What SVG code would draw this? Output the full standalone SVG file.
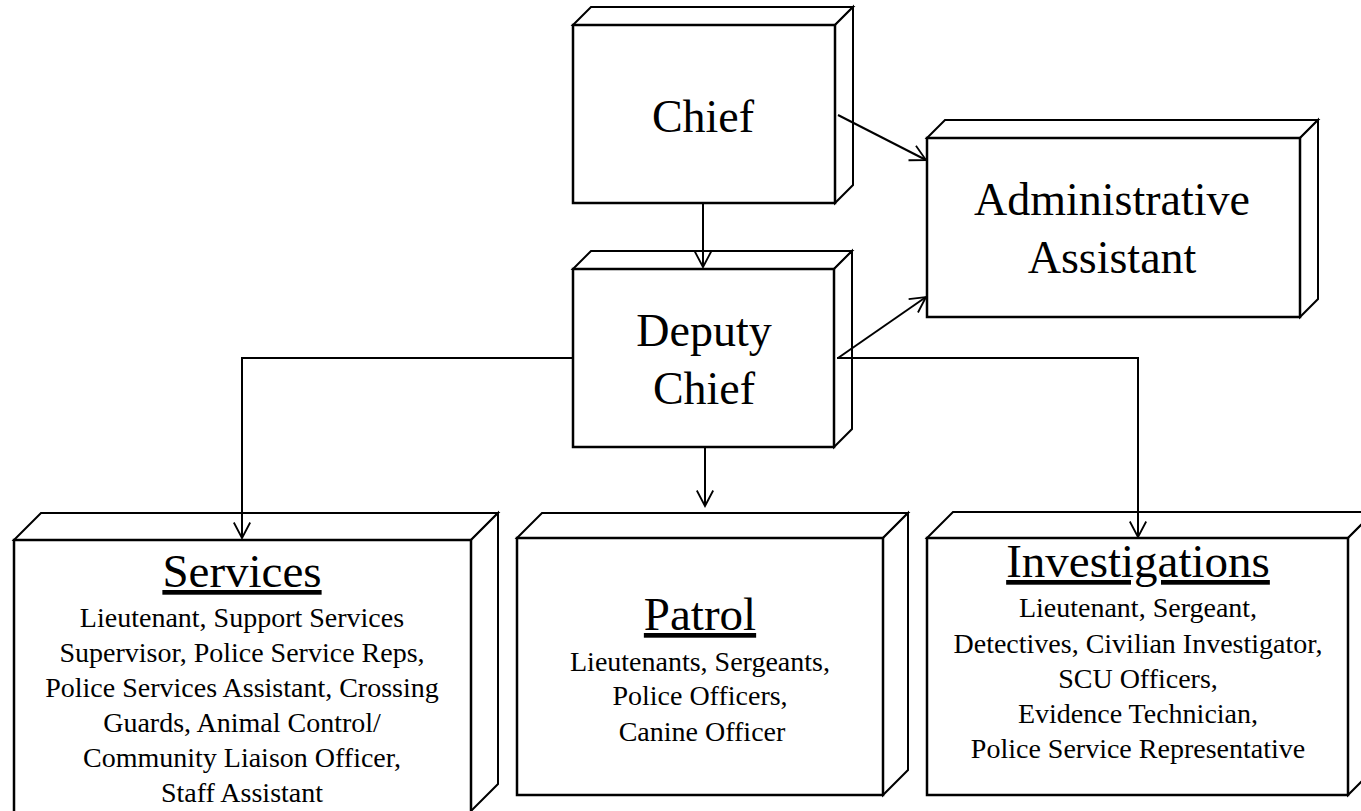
<svg xmlns="http://www.w3.org/2000/svg" width="1361" height="811" viewBox="0 0 1361 811">
<style>
.box{fill:#fff;stroke:#000;stroke-width:2.5;stroke-linejoin:miter}
.face{fill:#fff;stroke:#000;stroke-width:2;stroke-linejoin:miter}
.conn{fill:none;stroke:#000;stroke-width:2}
text{font-family:"Liberation Serif","Times New Roman",serif;fill:#000;text-anchor:middle}
.big{font-size:46px}
.head{font-size:47px;text-decoration:underline}
.body{font-size:28px}
</style>
<defs>
<marker id="arr" markerUnits="userSpaceOnUse" markerWidth="20" markerHeight="20" refX="0" refY="0" viewBox="-20 -10 22 20" orient="auto" overflow="visible">
<path d="M-17,-9 L0,0 L-17,9" fill="none" stroke="#000" stroke-width="2"/>
</marker>
</defs>
<rect width="1361" height="811" fill="#fff"/>

<g id="chief">
<path class="face" d="M573,25 L591,7 L853,7 L835,25 Z"/>
<path class="face" d="M835,25 L853,7 L853,185 L835,203 Z"/>
<rect class="box" x="573" y="25" width="262" height="178"/>
<text class="big" x="703" y="132">Chief</text>
</g>

<g id="admin">
<path class="face" d="M927,138 L945,120 L1318,120 L1300,138 Z"/>
<path class="face" d="M1300,138 L1318,120 L1318,299 L1300,317 Z"/>
<rect class="box" x="927" y="138" width="373" height="179"/>
<text class="big" x="1112" y="215">Administrative</text>
<text class="big" x="1112" y="273">Assistant</text>
</g>

<g id="deputy">
<path class="face" d="M573,269 L591,251 L852,251 L834,269 Z"/>
<path class="face" d="M834,269 L852,251 L852,429 L834,447 Z"/>
<rect class="box" x="573" y="269" width="261" height="178"/>
<text class="big" x="704" y="346">Deputy</text>
<text class="big" x="704" y="404">Chief</text>
</g>

<g id="services">
<path class="face" d="M14,540 L41,513 L498,513 L471,540 Z"/>
<path class="face" d="M471,540 L498,513 L498,784 L471,811 Z"/>
<rect class="box" x="14" y="540" width="457" height="275"/>
<text class="head" x="242" y="587">Services</text>
<text class="body" x="242" y="627">Lieutenant, Support Services</text>
<text class="body" x="242" y="662">Supervisor, Police Service Reps,</text>
<text class="body" x="242" y="697">Police Services Assistant, Crossing</text>
<text class="body" x="242" y="732">Guards, Animal Control/</text>
<text class="body" x="242" y="767">Community Liaison Officer,</text>
<text class="body" x="242" y="802">Staff Assistant</text>
</g>

<g id="patrol">
<path class="face" d="M517,538 L542,513 L908,513 L883,538 Z"/>
<path class="face" d="M883,538 L908,513 L908,770 L883,795 Z"/>
<rect class="box" x="517" y="538" width="366" height="257"/>
<text class="head" x="700" y="630">Patrol</text>
<text class="body" x="700" y="671">Lieutenants, Sergeants,</text>
<text class="body" x="700" y="705">Police Officers,</text>
<text class="body" x="702" y="741">Canine Officer</text>
</g>

<g id="investigations">
<path class="face" d="M927,538 L953,512 L1374,512 L1348,538 Z"/>
<path class="face" d="M1348,538 L1374,512 L1374,769 L1348,795 Z"/>
<rect class="box" x="927" y="538" width="421" height="257"/>
<text class="head" x="1138" y="577">Investigations</text>
<text class="body" x="1138" y="617">Lieutenant, Sergeant,</text>
<text class="body" x="1138" y="653">Detectives, Civilian Investigator,</text>
<text class="body" x="1138" y="688">SCU Officers,</text>
<text class="body" x="1138" y="723">Evidence Technician,</text>
<text class="body" x="1138" y="758">Police Service Representative</text>
</g>

<g id="connectors">
<path class="conn" d="M703,204 L703,267" marker-end="url(#arr)"/>
<path class="conn" d="M838,115 L926,160" marker-end="url(#arr)"/>
<path class="conn" d="M838,358 L926,297" marker-end="url(#arr)"/>
<path class="conn" d="M705,448 L705,506" marker-end="url(#arr)"/>
<path class="conn" d="M572,358 L242,358 L242,538" marker-end="url(#arr)"/>
<path class="conn" d="M837,358 L1138,358 L1138,537" marker-end="url(#arr)"/>
</g>
</svg>
